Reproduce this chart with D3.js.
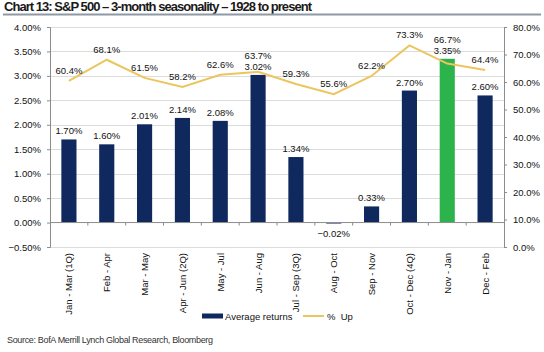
<!DOCTYPE html>
<html>
<head>
<meta charset="utf-8">
<script src="https://cdn.jsdelivr.net/npm/d3@7"></script>
<style>
  body { margin: 0; background: #fff; }
  text { font-family: "Liberation Sans", Arial, sans-serif; fill: #111; }
</style>
</head>
<body>
<svg id="chart" width="544" height="352"></svg>
<script>
(function() {

var periods = ["Jan - Mar (1Q)", "Feb - Apr", "Mar - May", "Apr - Jun (2Q)", "May - Jul", "Jun - Aug",
               "Jul - Sep (3Q)", "Aug - Oct", "Sep - Nov", "Oct - Dec (4Q)", "Nov - Jan", "Dec - Feb"];
var avgReturns = [1.70, 1.60, 2.01, 2.14, 2.08, 3.02, 1.34, -0.02, 0.33, 2.70, 3.35, 2.60];
var pctUp = [60.4, 68.1, 61.5, 58.2, 62.6, 63.7, 59.3, 55.6, 62.2, 73.3, 66.7, 64.4];
var leftTicks = [-0.5, 0, 0.5, 1, 1.5, 2, 2.5, 3, 3.5, 4];
var rightTicks = [0, 10, 20, 30, 40, 50, 60, 70, 80];
var highlight = "Nov - Jan";

var svg = d3.select("#chart"),
    margin = {top: 27, right: 40, bottom: 105, left: 50},
    width = +svg.attr("width") - margin.left - margin.right,
    height = +svg.attr("height") - margin.top - margin.bottom;

var navy = "#0f285e", green = "#2db34c", gold = "#ebc55e", axisGrey = "#8c8c8c";

// title + rule under it
svg.append("text")
    .attr("x", 4).attr("y", 11)
    .attr("textLength", 308)
    .style("font-family", "'Liberation Sans Narrow', 'Liberation Sans', sans-serif")
    .style("font-weight", "bold")
    .style("font-size", "13px")
    .style("fill", "#1a1a1a")
    .text("Chart 13: S&P 500  \u2013 3-month seasonality \u2013 1928 to present");
svg.append("rect")
    .attr("x", 3).attr("y", 13.5).attr("width", 538).attr("height", 2)
    .attr("fill", "#8d9aa6");

var x = d3.scaleBand().domain(periods).range([0, width]).paddingInner(0.6).paddingOuter(0.3),
    xb = d3.scaleBand().domain(periods).range([0, width]),
    y = d3.scaleLinear().domain([-0.5, 4]).range([height, 0]),
    y2 = d3.scaleLinear().domain([0, 80]).range([height, 0]);

var g = svg.append("g")
    .attr("transform", "translate(" + margin.left + "," + margin.top + ")");

// gridlines
g.append("g")
  .selectAll("line")
  .data(leftTicks.filter(function(d) { return d !== 0; }))
  .enter().append("line")
    .attr("x1", 0).attr("x2", width)
    .attr("y1", function(d) { return Math.round(y(d)) + 0.5; })
    .attr("y2", function(d) { return Math.round(y(d)) + 0.5; })
    .attr("stroke", "#dcdcdc");

// left axis
var yAxis = g.append("g")
    .call(d3.axisLeft(y).tickValues(leftTicks).tickSize(3).tickPadding(6)
      .tickFormat(function(d) { return d3.format(".2f")(d) + "%"; }));
yAxis.selectAll("text").style("font-size", "9.5px");

// right axis
var y2Axis = g.append("g")
    .attr("transform", "translate(" + width + ",0)")
    .call(d3.axisRight(y2).tickValues(rightTicks).tickSize(3).tickPadding(6)
      .tickFormat(function(d) { return d3.format(".1f")(d) + "%"; }));
y2Axis.selectAll("text").style("font-size", "9.5px");

[yAxis, y2Axis].forEach(function(a) {
  a.select(".domain").attr("stroke", axisGrey);
  a.selectAll(".tick line").attr("stroke", axisGrey);
});

// bars
g.selectAll(".bar")
  .data(periods)
  .enter().append("rect")
    .attr("class", "bar")
    .attr("x", function(d) { return x(d); })
    .attr("width", x.bandwidth())
    .attr("y", function(d, i) { return y(Math.max(0, avgReturns[i])); })
    .attr("height", function(d, i) { return Math.max(0.8, Math.abs(y(avgReturns[i]) - y(0))); })
    .attr("fill", function(d) { return d === highlight ? green : navy; });

// x axis on the zero line, ticks at the band edges
var zeroY = y(0);
g.append("line")
    .attr("x1", 0).attr("x2", width)
    .attr("y1", zeroY).attr("y2", zeroY)
    .attr("stroke", axisGrey);
g.append("g")
  .selectAll("line")
  .data(periods.slice(1))
  .enter().append("line")
    .attr("x1", function(d) { return xb(d); })
    .attr("x2", function(d) { return xb(d); })
    .attr("y1", zeroY).attr("y2", zeroY + 3)
    .attr("stroke", axisGrey);

// category labels, rotated
g.append("g")
  .selectAll("text")
  .data(periods)
  .enter().append("text")
    .attr("transform", function(d) {
      return "translate(" + (xb(d) + xb.bandwidth() / 2 + 3.5) + "," + (height + 6) + ") rotate(-90)";
    })
    .attr("text-anchor", "end")
    .style("font-size", "9.5px")
    .text(function(d) { return d; });

// % up line
var line = d3.line()
    .x(function(d, i) { return xb(periods[i]) + xb.bandwidth() / 2; })
    .y(function(d) { return y2(d); });
g.append("path")
    .datum(pctUp)
    .attr("d", line)
    .attr("fill", "none")
    .attr("stroke", gold)
    .attr("stroke-width", 2);

// bar labels
var barLabelY = avgReturns.map(function(v) {
  return v >= 0 ? y(v) - 5 : y(v) + 13;
});
g.append("g")
  .selectAll("text")
  .data(avgReturns)
  .enter().append("text")
    .attr("x", function(d, i) { return xb(periods[i]) + xb.bandwidth() / 2; })
    .attr("y", function(d, i) { return barLabelY[i]; })
    .attr("text-anchor", "middle")
    .style("font-size", "9.5px")
    .text(function(d) { return d3.format(".2f")(d) + "%"; });

// line labels, pushed above the bar label when they would overlap
g.append("g")
  .selectAll("text")
  .data(pctUp)
  .enter().append("text")
    .attr("x", function(d, i) { return xb(periods[i]) + xb.bandwidth() / 2; })
    .attr("y", function(d, i) {
      var ly = y2(d) - 7;
      if (Math.abs(ly - barLabelY[i]) < 11) ly = barLabelY[i] - 11;
      return ly;
    })
    .attr("text-anchor", "middle")
    .style("font-size", "9.5px")
    .text(function(d) { return d3.format(".1f")(d) + "%"; });

// legend
var legend = svg.append("g").attr("transform", "translate(0,316)");
legend.append("rect")
    .attr("x", 202).attr("y", -2.5).attr("width", 21).attr("height", 5)
    .attr("fill", navy);
legend.append("text")
    .attr("x", 225).attr("y", 3.5)
    .style("font-size", "9.5px")
    .text("Average returns");
legend.append("line")
    .attr("x1", 303).attr("x2", 324).attr("y1", 0).attr("y2", 0)
    .attr("stroke", gold).attr("stroke-width", 2);
legend.append("text")
    .attr("x", 327).attr("y", 3.5)
    .style("font-size", "9.5px")
    .style("white-space", "pre")
    .text("%  Up");

// source
svg.append("text")
    .attr("x", 7).attr("y", 343)
    .attr("textLength", 206)
    .style("font-family", "'Liberation Sans Narrow', 'Liberation Sans', sans-serif")
    .style("font-size", "9px")
    .style("fill", "#333")
    .text("Source:  BofA Merrill Lynch Global Research, Bloomberg");

})();
</script>
</body>
</html>
